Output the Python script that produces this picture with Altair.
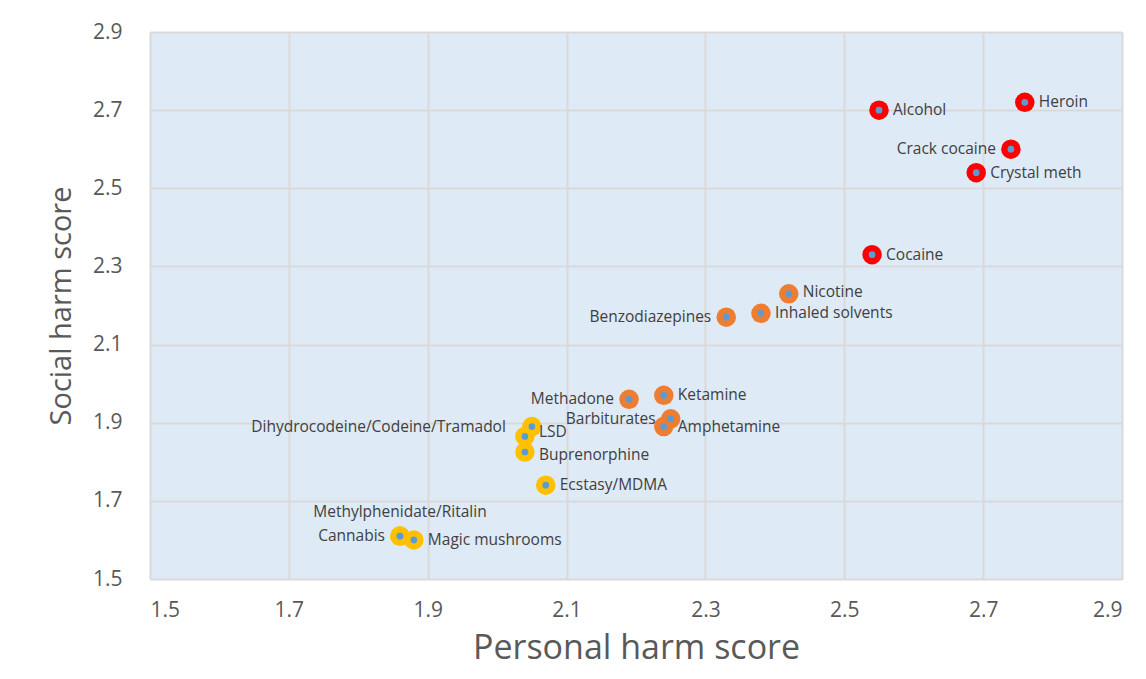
import altair as alt
import pandas as pd

drugs = ["Heroin", "Alcohol", "Crack cocaine", "Crystal meth", "Cocaine",
         "Nicotine", "Inhaled solvents", "Benzodiazepines", "Methadone", "Ketamine",
         "Barbiturates", "Amphetamine",
         "Dihydrocodeine/Codeine/Tramadol", "LSD", "Buprenorphine", "Ecstasy/MDMA",
         "Methylphenidate/Ritalin", "Cannabis", "Magic mushrooms"]
personal = [2.76, 2.55, 2.74, 2.69, 2.54,
            2.42, 2.38, 2.33, 2.19, 2.24,
            2.25, 2.24,
            2.05, 2.04, 2.04, 2.07,
            1.86, 1.86, 1.88]
social = [2.72, 2.70, 2.60, 2.54, 2.33,
          2.23, 2.18, 2.17, 1.96, 1.97,
          1.91, 1.89,
          1.89, 1.865, 1.825, 1.74,
          1.61, 1.61, 1.60]
group = ["high"] * 5 + ["medium"] * 7 + ["low"] * 7
label_side = ["right", "right", "left", "right", "right",
              "right_up", "right", "left", "left", "right",
              "left", "right",
              "farleft", "right_up2", "right_down", "right",
              "top", "left", "right"]

df = pd.DataFrame({"drug": drugs, "personal": personal, "social": social,
                   "group": group, "side": label_side})

xs = alt.Scale(domain=[1.5, 2.9], nice=False, zero=False)
ys = alt.Scale(domain=[1.5, 2.9], nice=False, zero=False)
ticks = [1.5, 1.7, 1.9, 2.1, 2.3, 2.5, 2.7, 2.9]

base = alt.Chart(df).encode(
    x=alt.X("personal:Q", scale=xs,
            axis=alt.Axis(values=ticks, format=".1f", title="Personal harm score",
                          grid=True, gridColor="#D9D9D9", gridWidth=2,
                          domain=False, ticks=False, labelPadding=20,
                          labelFontSize=21, labelColor="#595959", labelFont="Open Sans",
                          titleFontSize=34, titleFontWeight="normal", titleColor="#595959",
                          titleFont="Open Sans", titlePadding=11)),
    y=alt.Y("social:Q", scale=ys,
            axis=alt.Axis(values=ticks, format=".1f", title="Social harm score",
                          grid=True, gridColor="#D9D9D9", gridWidth=2,
                          domain=False, ticks=False, labelPadding=28,
                          labelFontSize=21, labelColor="#595959", labelFont="Open Sans",
                          titleFontSize=29, titleFontWeight="normal", titleColor="#595959",
                          titleFont="Open Sans", titlePadding=16)),
)

outer = base.mark_circle(size=380, opacity=1).encode(
    color=alt.Color("group:N",
                    scale=alt.Scale(domain=["high", "medium", "low"],
                                    range=["#FF0000", "#ED7D31", "#FFC000"]),
                    legend=None)
)
inner = base.mark_circle(size=45, opacity=1, color="#5B9BD5")

tstyle = dict(font="Open Sans", fontSize=15.5, color="#404040")
def side_layer(side, **kw):
    return base.transform_filter(alt.datum.side == side).mark_text(
        baseline="middle", **tstyle, **kw).encode(text="drug:N")

layers = [
    side_layer("right", align="left", dx=14),
    side_layer("right_up", align="left", dx=14, dy=-2),
    side_layer("right_up2", align="left", dx=14, dy=-4),
    side_layer("right_down", align="left", dx=14, dy=3),
    side_layer("left", align="right", dx=-15),
    side_layer("farleft", align="right", dx=-26),
    side_layer("top", align="center", dy=-24),
]

chart = alt.layer(outer, inner, *layers).properties(
    width=972, height=547,
    autosize=alt.AutoSizeParams(type="none"),
    padding={"left": 142, "top": 24, "right": 16, "bottom": 94},
    background="white",
).configure_view(fill="#DEEAF6", stroke=None)

chart.save("out.html", embed_options={"renderer": "svg", "actions": False})
